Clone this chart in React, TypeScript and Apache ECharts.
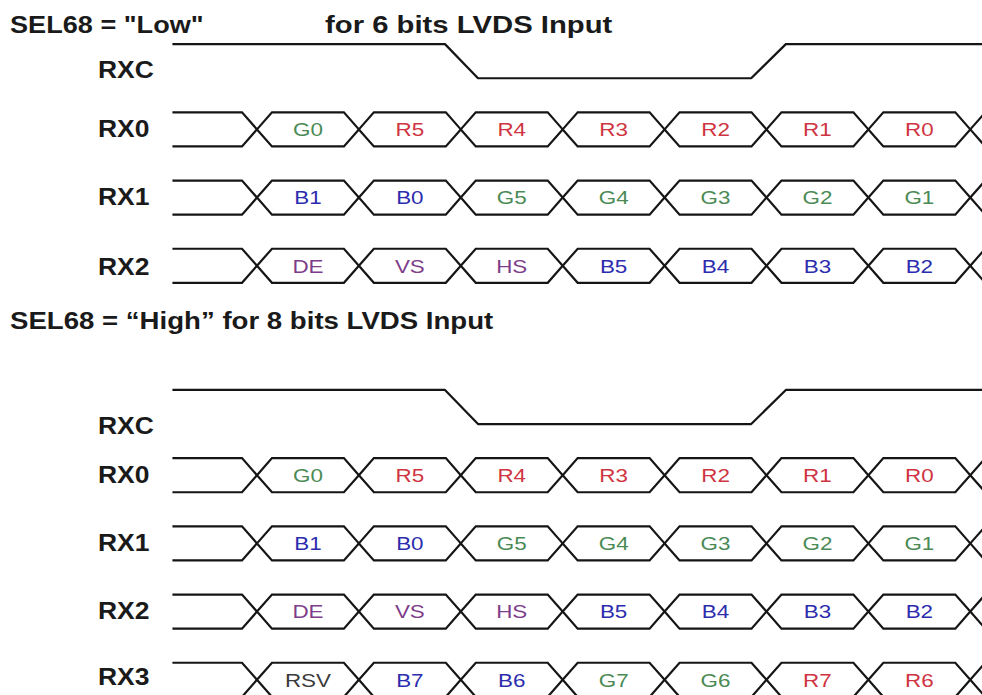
import React, { useEffect, useRef } from "react";
import * as echarts from "echarts";

// ---- data ----
const bitSlots = [0, 1, 2, 3, 4, 5, 6];
const lowRX0 = ["G0", "R5", "R4", "R3", "R2", "R1", "R0"];
const lowRX1 = ["B1", "B0", "G5", "G4", "G3", "G2", "G1"];
const lowRX2 = ["DE", "VS", "HS", "B5", "B4", "B3", "B2"];
const highRX0 = ["G0", "R5", "R4", "R3", "R2", "R1", "R0"];
const highRX1 = ["B1", "B0", "G5", "G4", "G3", "G2", "G1"];
const highRX2 = ["DE", "VS", "HS", "B5", "B4", "B3", "B2"];
const highRX3 = ["RSV", "B7", "B6", "G7", "G6", "R7", "R6"];

const clockTimes = [-0.83, 1.845, 2.169, 4.85, 5.19, 7.4];
const clockLevels = [1, 1, 0, 0, 1, 1];

const lowRowNames = ["RXC", "RX0", "RX1", "RX2"];
const lowRowLanes = [0, 1, 2, 3];
const highRowNames = ["RXC", "RX0", "RX1", "RX2", "RX3"];
const highRowLanes = [5.07, 6.07, 7.07, 8.07, 9.07];

const lowTitleA = 'SEL68 = "Low"';
const lowTitleB = "for 6 bits LVDS Input";
const highTitle = "SEL68 = \u201CHigh\u201D for 8 bits LVDS Input";

// ---- layout / style constants ----
const X_MIN = -2.522;
const X_MAX = 7.115;
const Y_MIN = -0.897;
const Y_MAX = 9.293;
const EDGE = 0.147;
const AMP = 0.25;
const START_T = -0.83;
const LABEL_T = -1.56;
const lowLabelShift = [0.13, 0, 0, 0.02];
const highLabelShift = [0.28, 0, 0, 0, -0.04];
const LINE = "#151515";
const SX = 1.18;
const FONT = '"Liberation Sans", Arial, Helvetica, sans-serif';

const colorOf = (s: string) => {
  if (s === "RSV") return "#3a3a3a";
  if (s[0] === "G") return "#4a8a55";
  if (s[0] === "R") return "#cf3442";
  if (s[0] === "B") return "#2c2cae";
  return "#7d3d88";
};

const busRows = [
  { lane: lowRowLanes[1], bits: lowRX0 },
  { lane: lowRowLanes[2], bits: lowRX1 },
  { lane: lowRowLanes[3], bits: lowRX2 },
  { lane: highRowLanes[1], bits: highRX0 },
  { lane: highRowLanes[2], bits: highRX1 },
  { lane: highRowLanes[3], bits: highRX2 },
  { lane: highRowLanes[4], bits: highRX3 },
];

type Seg = { t: number; lane: number; kind: number; label: string };
const segs: Seg[] = [];
busRows.forEach((r) => {
  segs.push({ t: START_T, lane: r.lane, kind: 0, label: "" });
  bitSlots.forEach((s) => segs.push({ t: s, lane: r.lane, kind: 1, label: r.bits[s] }));
  segs.push({ t: bitSlots[bitSlots.length - 1] + 1, lane: r.lane, kind: 2, label: "" });
});

const rowLabels: { name: string; lane: number }[] = [];
lowRowNames.forEach((n, i) => rowLabels.push({ name: n, lane: lowRowLanes[i] + lowLabelShift[i] }));
highRowNames.forEach((n, i) => rowLabels.push({ name: n, lane: highRowLanes[i] + highLabelShift[i] }));

const clockData = (lane: number) =>
  clockTimes.map((t, i) => [t, lane + (clockLevels[i] ? -AMP : AMP)]);

export default function App() {
  const ref = useRef<HTMLDivElement>(null);
  useEffect(() => {
    if (!ref.current) return;
    const chart = echarts.init(ref.current, undefined, { renderer: "svg" });
    const strokeStyle = { stroke: LINE, lineWidth: 2.2, fill: "transparent", lineJoin: "miter" };
    chart.setOption({
      animation: false,
      backgroundColor: "#ffffff",
      grid: { left: 0, right: 0, top: 0, bottom: 0, containLabel: false },
      xAxis: { type: "value", min: X_MIN, max: X_MAX, show: false },
      yAxis: { type: "value", min: Y_MIN, max: Y_MAX, inverse: true, show: false },
      graphic: [
        {
          type: "text", x: 10, y: 25, scaleX: 1.13,
          style: { text: lowTitleA, font: `bold 24px ${FONT}`, fill: "#1a1a1a", verticalAlign: "middle" },
        },
        {
          type: "text", x: 325, y: 25, scaleX: 1.22,
          style: { text: lowTitleB, font: `bold 24px ${FONT}`, fill: "#1a1a1a", verticalAlign: "middle" },
        },
        {
          type: "text", x: 10, y: 321, scaleX: 1.15,
          style: { text: highTitle, font: `bold 24px ${FONT}`, fill: "#1a1a1a", verticalAlign: "middle" },
        },
      ],
      series: [
        {
          type: "line", data: clockData(lowRowLanes[0]), symbol: "none",
          lineStyle: { color: LINE, width: 2.2 }, silent: true,
        },
        {
          type: "line", data: clockData(highRowLanes[0]), symbol: "none",
          lineStyle: { color: LINE, width: 2.2 }, silent: true,
        },
        {
          type: "custom",
          data: segs.map((s) => [s.t, s.lane, s.kind]),
          encode: { x: 0, y: 1 },
          silent: true,
          renderItem: (params: any, api: any) => {
            const s = segs[params.dataIndex];
            const c = (x: number, y: number) => api.coord([x, y]);
            const top = s.lane - AMP;
            const bot = s.lane + AMP;
            if (s.kind === 0) {
              return {
                type: "group",
                children: [
                  { type: "polyline", shape: { points: [c(s.t, top), c(bitSlots[0] - EDGE, top), c(bitSlots[0], s.lane)] }, style: strokeStyle },
                  { type: "polyline", shape: { points: [c(s.t, bot), c(bitSlots[0] - EDGE, bot), c(bitSlots[0], s.lane)] }, style: strokeStyle },
                ],
              };
            }
            if (s.kind === 2) {
              return {
                type: "group",
                children: [
                  { type: "polyline", shape: { points: [c(s.t, s.lane), c(s.t + EDGE, top), c(s.t + 0.6, top)] }, style: strokeStyle },
                  { type: "polyline", shape: { points: [c(s.t, s.lane), c(s.t + EDGE, bot), c(s.t + 0.6, bot)] }, style: strokeStyle },
                ],
              };
            }
            const mid = c(s.t + 0.5, s.lane);
            return {
              type: "group",
              children: [
                {
                  type: "polygon",
                  shape: {
                    points: [
                      c(s.t, s.lane), c(s.t + EDGE, top), c(s.t + 1 - EDGE, top),
                      c(s.t + 1, s.lane), c(s.t + 1 - EDGE, bot), c(s.t + EDGE, bot),
                    ],
                  },
                  style: strokeStyle,
                },
                {
                  type: "text", x: mid[0], y: mid[1], scaleX: SX,
                  style: {
                    text: s.label, x: 0, y: 0, fill: colorOf(s.label),
                    font: `19px ${FONT}`, align: "center", verticalAlign: "middle",
                  },
                },
              ],
            };
          },
        },
        {
          type: "custom",
          data: rowLabels.map((r) => [LABEL_T, r.lane]),
          encode: { x: 0, y: 1 },
          silent: true,
          renderItem: (params: any, api: any) => {
            const r = rowLabels[params.dataIndex];
            const p = api.coord([LABEL_T, r.lane]);
            return {
              type: "text", x: p[0], y: p[1], scaleX: 1.15,
              style: {
                text: r.name, x: 0, y: 0, fill: "#1a1a1a",
                font: `bold 23px ${FONT}`, align: "left", verticalAlign: "middle",
              },
            };
          },
        },
      ],
    });
    return () => chart.dispose();
  }, []);
  return (
    <div
      ref={ref}
      style={{ position: "fixed", left: 0, top: 0, width: 982, height: 695, background: "#fff" }}
    />
  );
}
